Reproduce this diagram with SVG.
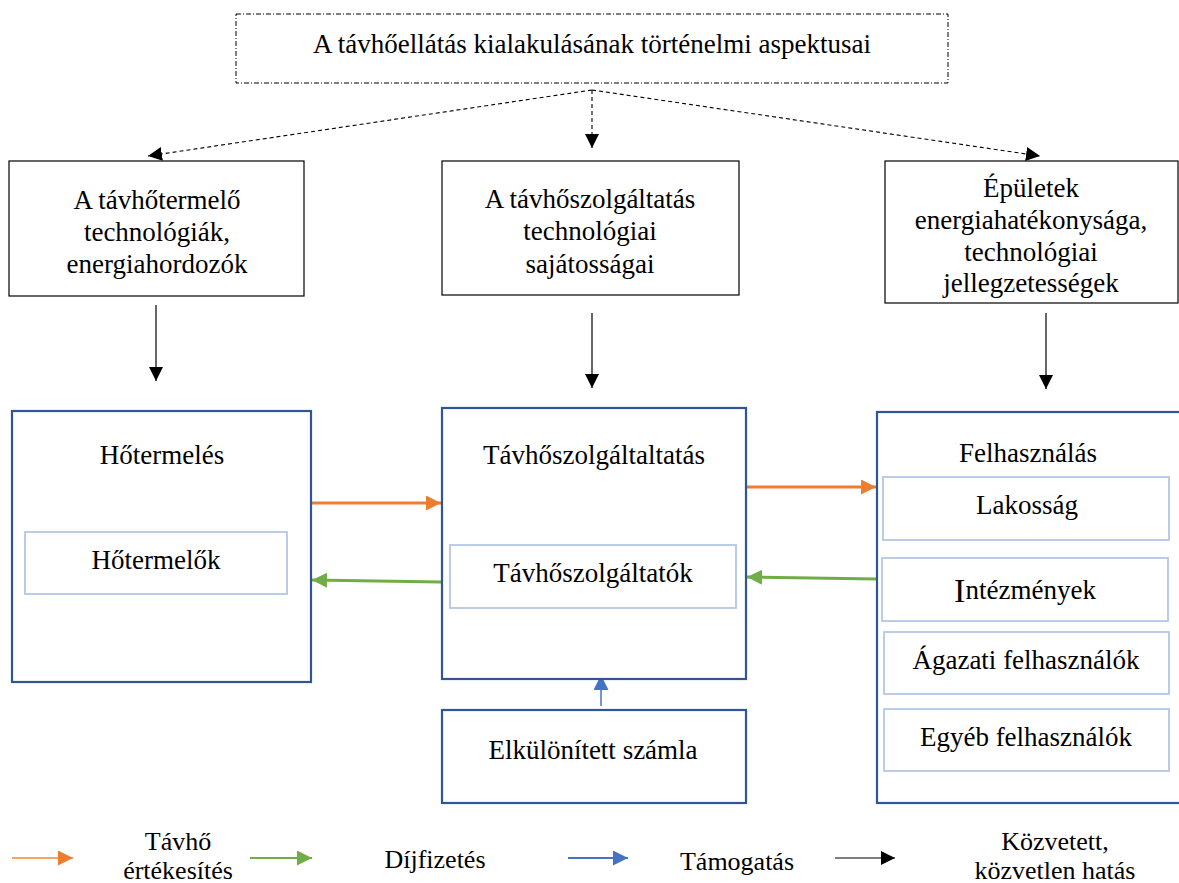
<svg xmlns="http://www.w3.org/2000/svg" width="1179" height="883" viewBox="0 0 1179 883" font-family="'Liberation Serif', 'Times New Roman', Times, serif" font-size="27">
  <style>
    text { font-family: 'Liberation Serif', 'Times New Roman', Times, serif; font-size: 27px; fill: #000; text-anchor: middle; dominant-baseline: central; }
    .key { font-size: 26px; }
    .plain { fill: #fff; stroke: #000; stroke-width: 1.2; }
    .outer { fill: #fff; stroke: #2F5597; stroke-width: 2.2; }
    .inner { fill: #fff; stroke: #B4C7E7; stroke-width: 1.8; }
    .dashed { stroke: #000; stroke-width: 1.1; stroke-dasharray: 4 3; fill: none; }
    .black { stroke: #000; stroke-width: 1.2; fill: none; }
    .orange { stroke: #ED7D31; stroke-width: 3; fill: none; }
    .green { stroke: #70AD47; stroke-width: 3; fill: none; }
    .blue { stroke: #4472C4; stroke-width: 1.5; fill: none; }
    .lorange { stroke: #F4A46A; stroke-width: 2; fill: none; }
    .lgreen { stroke: #70AD47; stroke-width: 2; fill: none; }
    .lblue { stroke: #4472C4; stroke-width: 2; fill: none; }
  </style>
  <defs>
    <marker id="hBlack" viewBox="0 0 10 10" refX="10" refY="5" markerUnits="userSpaceOnUse" markerWidth="14" markerHeight="14" orient="auto">
      <path d="M0,0 L10,5 L0,10 Z" fill="#000"/>
    </marker>
    <marker id="hOrange" viewBox="0 0 10 10" refX="10" refY="5" markerUnits="userSpaceOnUse" markerWidth="15" markerHeight="15" orient="auto">
      <path d="M0,0 L10,5 L0,10 Z" fill="#ED7D31"/>
    </marker>
    <marker id="hGreen" viewBox="0 0 10 10" refX="10" refY="5" markerUnits="userSpaceOnUse" markerWidth="15" markerHeight="15" orient="auto">
      <path d="M0,0 L10,5 L0,10 Z" fill="#70AD47"/>
    </marker>
    <marker id="hBlue" viewBox="0 0 10 10" refX="10" refY="5" markerUnits="userSpaceOnUse" markerWidth="15" markerHeight="15" orient="auto">
      <path d="M0,0 L10,5 L0,10 Z" fill="#4472C4"/>
    </marker>
  </defs>

  <rect width="1179" height="883" fill="#fff"/>

  <!-- connectors -->
  <g id="connectors">
    <path class="dashed" d="M592,90 L148,156" marker-end="url(#hBlack)"/>
    <path class="dashed" d="M592,90 L592,148" marker-end="url(#hBlack)"/>
    <path class="dashed" d="M592,90 L1040,156" marker-end="url(#hBlack)"/>

    <path class="black" d="M156,305 L156,381" marker-end="url(#hBlack)"/>
    <path class="black" d="M592,313 L592,388" marker-end="url(#hBlack)"/>
    <path class="black" d="M1046,313 L1046,389" marker-end="url(#hBlack)"/>

    <path class="orange" d="M312,503 L441,503" marker-end="url(#hOrange)"/>
    <path class="orange" d="M746,487 L876,487" marker-end="url(#hOrange)"/>
    <path class="green" d="M441,582 L312,580" marker-end="url(#hGreen)"/>
    <path class="green" d="M876,579 L747,577" marker-end="url(#hGreen)"/>
    <path class="blue" d="M601,706 L601,675" marker-end="url(#hBlue)"/>
  </g>

  <!-- nodes -->
  <g id="aspects">
    <rect x="236" y="14" width="712" height="69" fill="#fff" stroke="#000" stroke-width="1" stroke-dasharray="5 2 1 2"/>
    <text x="592" y="44">A távhőellátás kialakulásának történelmi aspektusai</text>
  </g>

  <g id="technologies">
    <rect class="plain" x="9" y="161" width="295" height="135"/>
    <text x="157" y="200">A távhőtermelő</text>
    <text x="157" y="232">technológiák,</text>
    <text x="157" y="264">energiahordozók</text>
  </g>

  <g id="service-tech">
    <rect class="plain" x="442" y="161" width="297" height="134"/>
    <text x="590" y="199">A távhőszolgáltatás</text>
    <text x="590" y="231">technológiai</text>
    <text x="590" y="264">sajátosságai</text>
  </g>

  <g id="buildings">
    <rect class="plain" x="885" y="161" width="293" height="142"/>
    <text x="1031" y="188">Épületek</text>
    <text x="1031" y="220">energiahatékonysága,</text>
    <text x="1031" y="252">technológiai</text>
    <text x="1031" y="283">jellegzetességek</text>
  </g>

  <g id="production">
    <rect class="outer" x="12" y="411" width="299" height="271"/>
    <text x="162" y="455">Hőtermelés</text>
    <rect class="inner" x="25" y="532" width="262" height="62"/>
    <text x="156" y="560">Hőtermelők</text>
  </g>

  <g id="service">
    <rect class="outer" x="442" y="408" width="304" height="271"/>
    <text x="594" y="455">Távhőszolgáltaltatás</text>
    <rect class="inner" x="450" y="545" width="286" height="63"/>
    <text x="593" y="573">Távhőszolgáltatók</text>
  </g>

  <g id="account">
    <rect class="outer" x="442" y="710" width="304" height="93"/>
    <text x="593" y="750">Elkülönített számla</text>
  </g>

  <g id="consumption">
    <rect class="outer" x="877" y="412" width="310" height="391"/>
    <text x="1028" y="453">Felhasználás</text>
    <rect class="inner" x="883" y="477" width="286" height="63"/>
    <text x="1027" y="505">Lakosság</text>
    <rect class="inner" x="882" y="558" width="286" height="63"/>
    <text x="1025" y="590"><tspan font-size="34">I</tspan>ntézmények</text>
    <rect class="inner" x="884" y="632" width="285" height="62"/>
    <text x="1026" y="660">Ágazati felhasználók</text>
    <rect class="inner" x="884" y="709" width="285" height="62"/>
    <text x="1026" y="737">Egyéb felhasználók</text>
  </g>

  <!-- legend -->
  <g id="legend">
    <path class="lorange" d="M12,858 L73,858" marker-end="url(#hOrange)"/>
    <text class="key" x="178" y="841">Távhő</text>
    <text class="key" x="178" y="870">értékesítés</text>
    <path class="lgreen" d="M250,858 L312,858" marker-end="url(#hGreen)"/>
    <text class="key" x="435" y="859">Díjfizetés</text>
    <path class="lblue" d="M568,858 L628,858" marker-end="url(#hBlue)"/>
    <text class="key" x="737" y="861">Támogatás</text>
    <path class="black" d="M835,858 L895,858" marker-end="url(#hBlack)"/>
    <text class="key" x="1055" y="841">Közvetett,</text>
    <text class="key" x="1055" y="870">közvetlen hatás</text>
  </g>
</svg>
